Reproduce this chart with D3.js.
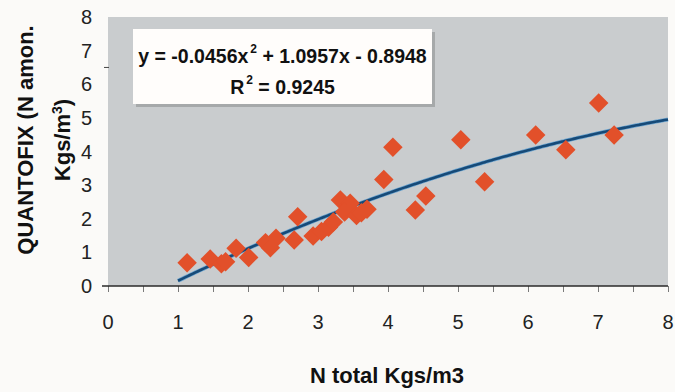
<!DOCTYPE html>
<html>
<head>
<meta charset="utf-8">
<script src="https://cdn.jsdelivr.net/npm/d3@7"></script>
<style>
  body { margin: 0; background: #fbfaf8; }
  text { font-family: "Liberation Sans", Arial, sans-serif; }
</style>
</head>
<body>
<div id="chart"></div>
<script>
var nTotal = [1.13, 1.46, 1.62, 1.68, 1.83, 2.01, 2.25, 2.32, 2.40, 2.66, 2.71, 2.93,
  3.05, 3.15, 3.22, 3.32, 3.46, 3.38, 3.55, 3.62, 3.70, 3.94, 4.07, 4.39, 4.54,
  5.04, 5.38, 6.11, 6.54, 7.01, 7.23];
var quantofix = [0.69, 0.80, 0.66, 0.72, 1.12, 0.85, 1.29, 1.14, 1.42, 1.37, 2.06, 1.49,
  1.62, 1.75, 1.90, 2.56, 2.46, 2.20, 2.10, 2.18, 2.28, 3.17, 4.13, 2.26, 2.68,
  4.35, 3.10, 4.49, 4.05, 5.44, 4.49];
var xTicks = [0, 1, 2, 3, 4, 5, 6, 7, 8];
var yTicks = [0, 1, 2, 3, 4, 5, 6, 7, 8];
var fitCoef = [-0.0456, 1.0957, -0.8948];
var fitRange = [1, 8];
var eqLine1 = ["y = -0.0456x", "2", " + 1.0957x - 0.8948"];
var eqLine2 = ["R", "2", " = 0.9245"];

var width = 675,
  height = 392;
var margin = { left: 108, right: 7, top: 17, bottom: 106 };

var svg = d3
  .select("#chart")
  .append("svg")
  .attr("width", width)
  .attr("height", height);

var xScale = d3.scaleLinear().domain([0, 8]).range([margin.left, width - margin.right]);
var yScale = d3.scaleLinear().domain([0, 8]).range([height - margin.bottom, margin.top]);

// plot area
svg
  .append("rect")
  .attr("x", xScale(0))
  .attr("y", yScale(8))
  .attr("width", xScale(8) - xScale(0))
  .attr("height", yScale(0) - yScale(8))
  .attr("fill", "#c9ccce");

// x axis with half-unit ticks
var xAxis = d3
  .axisBottom(xScale)
  .tickValues(d3.range(0, 8.01, 0.5))
  .tickSize(6)
  .tickFormat("");
var gx = svg
  .append("g")
  .attr("transform", "translate(0," + yScale(0) + ")")
  .call(xAxis);
gx.select(".domain").remove();
gx.selectAll(".tick line").attr("stroke", "#7a7a7a");
svg
  .append("line")
  .attr("x1", xScale(0) - 6)
  .attr("x2", xScale(8))
  .attr("y1", yScale(0))
  .attr("y2", yScale(0))
  .attr("stroke", "#2a2a2a")
  .attr("stroke-width", 1.5);

svg
  .append("g")
  .selectAll("text")
  .data(xTicks)
  .enter()
  .append("text")
  .attr("x", (d) => xScale(d))
  .attr("y", 329)
  .attr("text-anchor", "middle")
  .attr("font-size", 20)
  .attr("fill", "#222")
  .text((d) => d);

svg
  .append("g")
  .selectAll("text")
  .data(yTicks)
  .enter()
  .append("text")
  .attr("x", 92)
  .attr("y", (d) => yScale(d) + 7)
  .attr("text-anchor", "end")
  .attr("font-size", 20)
  .attr("fill", "#222")
  .text((d) => d);

// stray tick on the y side
svg
  .append("line")
  .attr("x1", xScale(0) - 4)
  .attr("x2", xScale(0) + 1)
  .attr("y1", yScale(6.5))
  .attr("y2", yScale(6.5))
  .attr("stroke", "#444");

// axis titles
svg
  .append("text")
  .attr("x", 387)
  .attr("y", 383)
  .attr("text-anchor", "middle")
  .attr("font-size", 22)
  .attr("font-weight", "bold")
  .attr("fill", "#111")
  .text("N total Kgs/m3");

var yTitle = svg
  .append("g")
  .attr("transform", "translate(33,140) rotate(-90)");
yTitle
  .append("text")
  .attr("text-anchor", "middle")
  .attr("font-size", 22)
  .attr("font-weight", "bold")
  .attr("fill", "#111")
  .text("QUANTOFIX (N amon.");
var t2 = yTitle
  .append("text")
  .attr("y", 37)
  .attr("text-anchor", "middle")
  .attr("font-size", 22)
  .attr("font-weight", "bold")
  .attr("fill", "#111");
t2.append("tspan").text("Kgs/m");
t2.append("tspan").attr("font-size", 14).attr("dy", -8).text("3");
t2.append("tspan").attr("dy", 8).text(")");

// fitted curve
var fitX = d3.range(fitRange[0], fitRange[1] + 0.001, 0.05);
var line = d3
  .line()
  .x((d) => xScale(d))
  .y((d) => yScale(fitCoef[0] * d * d + fitCoef[1] * d + fitCoef[2]))
  .curve(d3.curveMonotoneX);
svg
  .append("path")
  .datum(fitX)
  .attr("d", line)
  .attr("fill", "none")
  .attr("stroke", "#6fa6d0")
  .attr("stroke-width", 4);
svg
  .append("path")
  .datum(fitX)
  .attr("d", line)
  .attr("fill", "none")
  .attr("stroke", "#164a78")
  .attr("stroke-width", 2.6);

// data points
var diamond = d3.symbol().type(d3.symbolSquare).size(190);
svg
  .append("g")
  .selectAll("path")
  .data(nTotal)
  .enter()
  .append("path")
  .attr("d", diamond)
  .attr("transform", (d, i) =>
    "translate(" + xScale(d) + "," + yScale(quantofix[i]) + ") rotate(45)")
  .attr("fill", "#e2502a");

// equation box
var box = { x: 133, y: 29, w: 299, h: 75 };
svg
  .append("rect")
  .attr("x", box.x + 3)
  .attr("y", box.y + 3)
  .attr("width", box.w)
  .attr("height", box.h)
  .attr("fill", "#8f9193")
  .attr("opacity", 0.6);
svg
  .append("rect")
  .attr("x", box.x)
  .attr("y", box.y)
  .attr("width", box.w)
  .attr("height", box.h)
  .attr("fill", "#fffdfb");

function eqText(parts, y) {
  var t = svg
    .append("text")
    .attr("x", box.x + box.w / 2)
    .attr("y", y)
    .attr("text-anchor", "middle")
    .attr("font-size", 19.5)
    .attr("font-weight", "bold")
    .attr("fill", "#111");
  t.append("tspan").text(parts[0]);
  t.append("tspan").attr("font-size", 12).attr("dx", 2).attr("dy", -10).text(parts[1]);
  t.append("tspan").attr("dy", 10).text(parts[2]);
}
eqText(eqLine1, 63);
eqText(eqLine2, 94);
</script>
</body>
</html>
